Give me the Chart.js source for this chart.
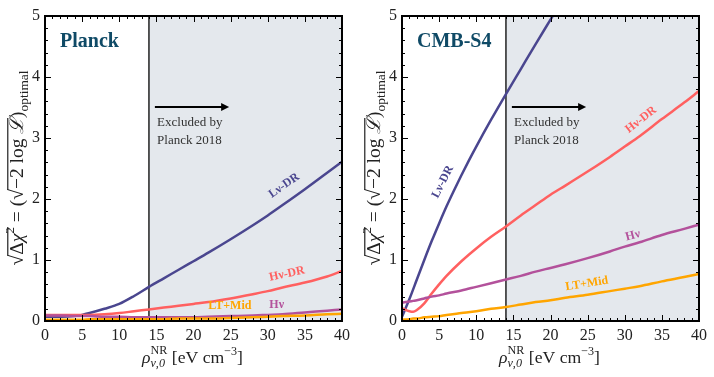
<!DOCTYPE html>
<html><head><meta charset="utf-8">
<script src="https://cdn.jsdelivr.net/npm/chart.js@4.4.0/dist/chart.umd.min.js"></script>
<style>
html,body{margin:0;padding:0;background:#fff;}
#wrap{position:relative;width:714px;height:377px;}
.panel{position:absolute;top:0;width:357px;height:377px;}
#p1{left:0}#p2{left:357px}
</style></head><body>
<div id="wrap">
<div class="panel" id="p1"><canvas id="c1" width="357" height="377"></canvas></div>
<div class="panel" id="p2"><canvas id="c2" width="357" height="377"></canvas></div>
</div>
<script>
// ---------------- data ----------------
const xTicks = [0, 5, 10, 15, 20, 25, 30, 35, 40];
const yTicks = [0, 1, 2, 3, 4, 5];
const exclStart = 14; // Planck 2018 exclusion boundary

// Planck panel
const xPlanck      = [0, 2, 4, 5, 6, 8, 10, 12, 14, 16, 18, 20, 22, 25, 28, 30, 32, 35, 38, 40];
const planckLnuDR  = [0.07,0.07,0.08,0.10,0.13,0.20,0.28,0.41,0.56,0.70,0.84,0.98,1.12,1.34,1.57,1.73,1.90,2.16,2.43,2.61];
const planckHnuDR  = [0.10,0.10,0.10,0.10,0.10,0.11,0.13,0.16,0.19,0.22,0.25,0.28,0.31,0.37,0.44,0.49,0.55,0.63,0.73,0.82];
const planckHnu    = [0.09,0.09,0.08,0.08,0.08,0.07,0.07,0.06,0.06,0.06,0.06,0.06,0.07,0.08,0.09,0.10,0.11,0.14,0.17,0.19];
const planckLTMid  = [0.02,0.02,0.02,0.02,0.03,0.03,0.03,0.03,0.03,0.03,0.04,0.04,0.04,0.05,0.06,0.07,0.08,0.09,0.11,0.12];

// CMB-S4 panel
const xS4LnuDR     = [0, 1, 2, 3, 4, 5, 6, 7, 8, 9, 10, 12, 14, 16, 18, 20, 22];
const s4LnuDR      = [0.07,0.36,0.68,1.00,1.31,1.60,1.88,2.14,2.39,2.63,2.86,3.30,3.72,4.13,4.54,4.94,5.34];
const xS4          = [0, 1, 1.5, 2, 3, 4, 5, 6, 8, 10, 12, 14, 16, 18, 20, 22, 25, 28, 30, 32, 35, 38, 40];
const s4HnuDR      = [0.21,0.16,0.15,0.18,0.29,0.45,0.60,0.74,0.98,1.19,1.38,1.55,1.73,1.90,2.07,2.22,2.45,2.69,2.86,3.03,3.31,3.58,3.77];
const s4Hnu        = [0.30,0.32,0.33,0.34,0.37,0.40,0.42,0.45,0.50,0.56,0.62,0.68,0.74,0.81,0.87,0.93,1.03,1.14,1.22,1.29,1.41,1.51,1.58];
const s4LTMid      = [0.02,0.03,0.04,0.04,0.06,0.07,0.08,0.10,0.13,0.16,0.20,0.23,0.27,0.31,0.34,0.38,0.43,0.49,0.53,0.57,0.65,0.72,0.77];

const seriesNames = ['Lν-DR', 'Hν-DR', 'Hν', 'LT+Mid'];
const colors = { 'Lν-DR': '#4a468f', 'Hν-DR': '#ff6060', 'Hν': '#b3519b', 'LT+Mid': '#ffa500' };

// ---------------- helpers ----------------
const SERIF = '"Liberation Serif", "DejaVu Serif", serif';
const pts = (xs, ys) => xs.map((v, i) => ({ x: v, y: ys[i] }));
function ds(name, xs, ys) {
  return { label: name, data: pts(xs, ys), borderColor: colors[name], borderWidth: 2.5,
           pointRadius: 0, cubicInterpolationMode: 'monotone', fill: false };
}

function drawPieces(ctx, pieces) {
  let x = 0;
  const res = [];
  for (const p of pieces) {
    ctx.font = p.f;
    if (p.stack) {
      let w = 0;
      for (const s of p.stack) { ctx.font = s.f; w = Math.max(w, ctx.measureText(s.t).width); }
      res.push({ p, x, w }); x += w;
    } else {
      const w = ctx.measureText(p.t).width;
      res.push({ p, x, w }); x += w;
    }
  }
  return { total: x, res };
}
function renderPieces(ctx, layout, x0) {
  const { res } = layout;
  const olSpans = {};
  for (const r of res) {
    const p = r.p;
    if (p.stack) {
      for (const s of p.stack) { ctx.font = s.f; ctx.fillText(s.t, x0 + r.x, s.dy || 0); }
    } else {
      ctx.font = p.f; ctx.fillText(p.t, x0 + r.x, p.dy || 0);
      if (p.sqrt) {
        const m = ctx.measureText(p.t);
        olSpans[p.sqrt] = { x1: x0 + r.x + r.w - 0.8, top: -m.actualBoundingBoxAscent + 0.5 };
      }
      if (p.ol) { olSpans[p.ol].x2 = x0 + r.x + r.w; }
    }
  }
  ctx.lineWidth = 1;
  for (const k in olSpans) {
    const s = olSpans[k];
    ctx.beginPath(); ctx.moveTo(s.x1, s.top); ctx.lineTo(s.x2, s.top); ctx.stroke();
  }
}

function drawYLabel(ctx, bx, cy, target) {
  const m = `16px ${SERIF}`, it = `italic 16px ${SERIF}`, sm = `11px ${SERIF}`;
  const pieces = [
    { t: '√', f: m, sqrt: 1 }, { t: 'Δ', f: m, ol: 1 }, { t: 'χ', f: it, ol: 1 }, { t: '2', f: sm, dy: -7, ol: 1 },
    { t: ' = (', f: m }, { t: '√', f: m, sqrt: 2 }, { t: '−2 log ', f: m, ol: 2 }, { t: 'ℒ', f: it, ol: 2 },
    { t: ')', f: m }, { t: 'optimal', f: sm, dy: 4 }
  ];
  ctx.save();
  ctx.translate(bx, cy); ctx.rotate(-Math.PI / 2);
  const lay = drawPieces(ctx, pieces);
  const s = target / lay.total; ctx.scale(s, s);
  ctx.fillStyle = '#222'; ctx.strokeStyle = '#222'; ctx.textBaseline = 'alphabetic'; ctx.textAlign = 'left';
  renderPieces(ctx, lay, -lay.total / 2);
  ctx.restore();
}
function drawXLabel(ctx, cx, by, target) {
  const m = `16px ${SERIF}`, it = `italic 16px ${SERIF}`, sm = `11px ${SERIF}`, smi = `italic 11px ${SERIF}`;
  const pieces = [
    { t: 'ρ', f: it },
    { stack: [{ t: 'NR', f: sm, dy: -8 }, { t: 'ν,0', f: smi, dy: 4 }], f: sm },
    { t: ' [eV cm', f: m }, { t: '−3', f: sm, dy: -7 }, { t: ']', f: m }
  ];
  ctx.save();
  ctx.translate(cx, by);
  const lay = drawPieces(ctx, pieces);
  const s = target / lay.total; ctx.scale(s, s);
  ctx.fillStyle = '#222'; ctx.textBaseline = 'alphabetic'; ctx.textAlign = 'left';
  renderPieces(ctx, lay, -lay.total / 2);
  ctx.restore();
}

const decor = {
  id: 'decor',
  beforeDatasetsDraw(chart, args, o) {
    const { ctx, chartArea: a, scales: { x, y } } = chart;
    const xe = x.getPixelForValue(exclStart);
    ctx.save();
    ctx.fillStyle = '#e4e8ed';
    ctx.fillRect(xe, a.top, a.right - xe, a.bottom - a.top);
    ctx.strokeStyle = '#000'; ctx.lineWidth = 1.3;
    ctx.beginPath(); ctx.moveTo(xe, a.top); ctx.lineTo(xe, a.bottom); ctx.stroke();
    const ax1 = x.getPixelForValue(14.8), ax2 = x.getPixelForValue(24.8), ay = y.getPixelForValue(3.51);
    ctx.lineWidth = 2;
    ctx.beginPath(); ctx.moveTo(ax1, ay); ctx.lineTo(ax2 - 7, ay); ctx.stroke();
    ctx.fillStyle = '#000';
    ctx.beginPath(); ctx.moveTo(ax2, ay); ctx.lineTo(ax2 - 8, ay - 4); ctx.lineTo(ax2 - 8, ay + 4); ctx.closePath(); ctx.fill();
    ctx.fillStyle = '#333'; ctx.font = `13px ${SERIF}`; ctx.textAlign = 'left'; ctx.textBaseline = 'alphabetic';
    const tx = x.getPixelForValue(15.1);
    ctx.fillText('Excluded by', tx, y.getPixelForValue(3.2));
    ctx.fillText('Planck 2018', tx, y.getPixelForValue(2.905));
    ctx.restore();
  },
  afterDatasetsDraw(chart, args, o) {
    const { ctx, chartArea: a, scales: { x, y } } = chart;
    ctx.save();
    ctx.font = `bold 12px ${SERIF}`; ctx.textAlign = 'center'; ctx.textBaseline = 'middle';
    for (const l of o.labels) {
      ctx.save();
      ctx.translate(x.getPixelForValue(l.x), y.getPixelForValue(l.y));
      ctx.rotate(l.rot * Math.PI / 180);
      ctx.fillStyle = colors[l.name];
      ctx.fillText(l.name, 0, 0);
      ctx.restore();
    }
    ctx.font = `bold 20px ${SERIF}`; ctx.fillStyle = '#0f4a66'; ctx.textAlign = 'left'; ctx.textBaseline = 'alphabetic';
    ctx.fillText(o.title, a.left + 15, a.top + 31);
    ctx.strokeStyle = '#000'; ctx.lineWidth = 2;
    ctx.strokeRect(a.left, a.top, a.right - a.left, a.bottom - a.top);
    ctx.lineWidth = 1;
    ctx.beginPath();
    for (let v = 0; v <= 40; v++) {
      const px = Math.round(x.getPixelForValue(v)) + 0.5, L = v % 5 === 0 ? 6 : 3;
      ctx.moveTo(px, a.bottom); ctx.lineTo(px, a.bottom - L);
      ctx.moveTo(px, a.top); ctx.lineTo(px, a.top + L);
    }
    for (let k = 0; k <= 25; k++) {
      const v = k * 0.2, py = Math.round(y.getPixelForValue(v)) + 0.5, L = k % 5 === 0 ? 6 : 3;
      ctx.moveTo(a.left, py); ctx.lineTo(a.left + L, py);
      ctx.moveTo(a.right, py); ctx.lineTo(a.right - L, py);
    }
    ctx.stroke();
    drawYLabel(ctx, 23, 168, 195);
    drawXLabel(ctx, (a.left + a.right) / 2 - 1, 363, 101);
    ctx.restore();
  }
};

function makeChart(id, datasets, title, labels) {
  return new Chart(document.getElementById(id), {
    type: 'line',
    data: { datasets },
    plugins: [decor],
    options: {
      responsive: false, animation: false, events: [],
      layout: { padding: { top: 16, right: 15, left: 0, bottom: 0 } },
      plugins: { legend: { display: false }, tooltip: { enabled: false }, decor: { title, labels } },
      scales: {
        x: { type: 'linear', min: 0, max: 40,
             afterBuildTicks: s => { s.ticks = xTicks.map(v => ({ value: v })); },
             ticks: { font: { family: SERIF, size: 16 }, color: '#222', padding: 5, maxRotation: 0, autoSkip: false },
             grid: { display: false, drawTicks: false }, border: { display: false },
             afterFit: s => { s.height = 56; } },
        y: { type: 'linear', min: 0, max: 5,
             afterBuildTicks: s => { s.ticks = yTicks.map(v => ({ value: v })); },
             ticks: { font: { family: SERIF, size: 16 }, color: '#222', padding: 5 },
             grid: { display: false, drawTicks: false }, border: { display: false },
             afterFit: s => { s.width = 45; } }
      }
    }
  });
}

makeChart('c1', [
  ds('LT+Mid', xPlanck, planckLTMid),
  ds('Hν', xPlanck, planckHnu),
  ds('Hν-DR', xPlanck, planckHnuDR),
  ds('Lν-DR', xPlanck, planckLnuDR)
], 'Planck', [
  { name: 'Lν-DR', x: 32.2, y: 2.22, rot: -35 },
  { name: 'Hν-DR', x: 32.6, y: 0.77, rot: -12 },
  { name: 'LT+Mid', x: 24.9, y: 0.25, rot: 0 },
  { name: 'Hν', x: 31.2, y: 0.27, rot: 0 }
]);

makeChart('c2', [
  ds('LT+Mid', xS4, s4LTMid),
  ds('Hν', xS4, s4Hnu),
  ds('Hν-DR', xS4, s4HnuDR),
  ds('Lν-DR', xS4LnuDR, s4LnuDR)
], 'CMB-S4', [
  { name: 'Lν-DR', x: 5.5, y: 2.28, rot: -63 },
  { name: 'Hν-DR', x: 32.2, y: 3.3, rot: -38 },
  { name: 'Hν', x: 31.1, y: 1.4, rot: -15 },
  { name: 'LT+Mid', x: 24.9, y: 0.61, rot: -9 }
]);
</script>
</body></html>
